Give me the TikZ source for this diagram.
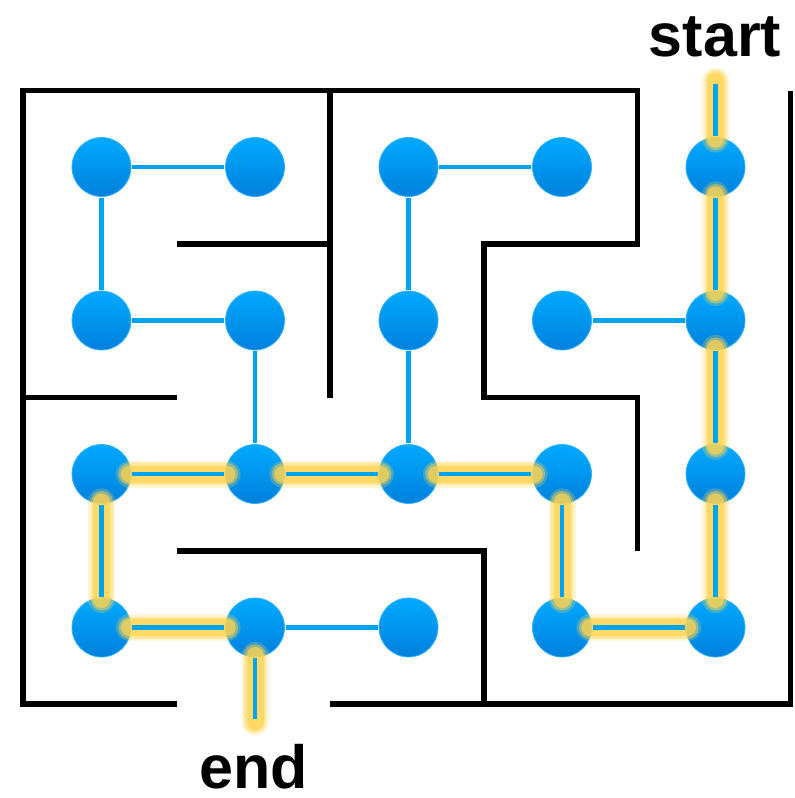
\documentclass[tikz,border=0pt]{standalone}
\usepackage{fontspec}
\setmainfont{Liberation Sans}
\definecolor{dotTop}{RGB}{0,170,255}
\definecolor{dotBot}{RGB}{0,128,220}
\definecolor{dotRim}{RGB}{50,180,255}
\definecolor{linkBlue}{RGB}{0,163,240}
\definecolor{glowY}{RGB}{255,212,80}
% one highlighted segment: a soft yellow band in layers
\newcommand\glowseg[2]{%
  \draw[glowlayer, line width=27pt, opacity=0.25] (#1) -- (#2);
  \draw[glowlayer, line width=22pt, opacity=0.45] (#1) -- (#2);
  \draw[glowlayer, line width=17pt, opacity=0.7] (#1) -- (#2);}
\begin{document}
\begin{tikzpicture}[x=1pt,y=-1pt,
  wall/.style={line width=5.5pt, black, line join=miter},
  dot/.style={circle, minimum size=59pt, inner sep=0pt, top color=dotTop,
    bottom color=dotBot, draw=dotRim, line width=0.8pt},
  link/.style={line width=4.6pt, linkBlue, shorten <=1pt, shorten >=1pt},
  glowlayer/.style={glowY, line cap=round, shorten <=-2pt, shorten >=-2pt},
  label/.style={font=\fontsize{61}{61}\selectfont\bfseries, anchor=base, inner sep=0pt}]
\useasboundingbox (0,0) rectangle (795,798);

% maze walls
\draw[wall] (177,704) -- (23,704) -- (23,90.7) -- (637.7,90.7) -- (637.7,244)
  -- (484,244) -- (484,397.7) -- (637.7,397.7) -- (637.7,550.7);
\draw[wall] (330,90.7) -- (330,397.5);
\draw[wall] (177,244) -- (330,244);
\draw[wall] (23,397.7) -- (177,397.7);
\draw[wall] (177,551) -- (484,551) -- (484,704);
\draw[wall] (330,704) -- (790.7,704) -- (790.7,90.7);

% cells of the grid
\foreach \c in {1,...,5}
  \foreach \r in {1,...,4}
    \node[dot] (n\c\r) at ({101.5+153.5*(\c-1)},{167+153.5*(\r-1)}) {};

\coordinate (entry) at (715.5,83);
\coordinate (exit) at (255,720);

% solution path glow
\glowseg{entry}{n51}
\glowseg{n51}{n52}
\glowseg{n52}{n53}
\glowseg{n53}{n54}
\glowseg{n54}{n44}
\glowseg{n44}{n43}
\glowseg{n43}{n33}
\glowseg{n33}{n23}
\glowseg{n23}{n13}
\glowseg{n13}{n14}
\glowseg{n14}{n24}
\glowseg{n24}{exit}

% passages
\foreach \a/\b in {n11/n21, n31/n41, n11/n12, n31/n32, n12/n22, n42/n52,
  n22/n23, n32/n33, n24/n34,
  entry/n51, n51/n52, n52/n53, n53/n54, n54/n44, n44/n43, n43/n33,
  n33/n23, n23/n13, n13/n14, n14/n24, n24/exit}
  \draw[link] (\a) -- (\b);

\node[label] (startlbl) at (715,56) {start};
\node[label] (endlbl) at (254,788) {end};
\end{tikzpicture}
\end{document}
